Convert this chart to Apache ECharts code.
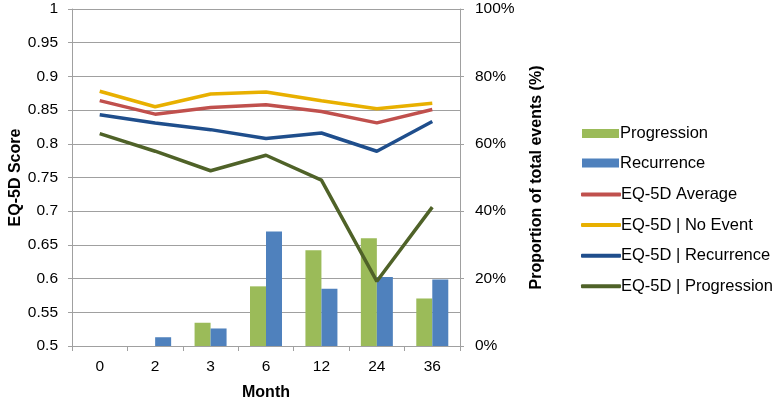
<!DOCTYPE html>
<html><head><meta charset="utf-8">
<script src="https://cdn.jsdelivr.net/npm/echarts@6/dist/echarts.min.js"></script>
<style>html,body{margin:0;padding:0;background:#fff}#c{width:777px;height:406px}</style>
</head><body><div id="c"></div>
<script>
var months = ['0','2','3','6','12','24','36'];
var progressionPct = [0, 0, 6.9, 17.7, 28.4, 32.0, 14.1];
var recurrencePct = [0, 2.6, 5.2, 34.0, 17.0, 20.5, 19.7];
var eqAverage = [0.864, 0.844, 0.854, 0.858, 0.848, 0.831, 0.851];
var eqNoEvent = [0.878, 0.855, 0.874, 0.877, 0.864, 0.852, 0.860];
var eqRecurrence = [0.843, 0.831, 0.821, 0.808, 0.816, 0.789, 0.833];
var eqProgression = [0.815, 0.789, 0.760, 0.783, 0.746, 0.596, 0.706];
var leftTicks = {min: 0.5, max: 1, interval: 0.05};
var rightTicks = {min: 0, max: 100, interval: 20};

var FONT = 'Liberation Sans, Arial, sans-serif';
var grid = '#a0a0a0';
var chart = echarts.init(document.getElementById('c'), null, {renderer: 'canvas'});
function lineSeries(name, data, color) {
  return {name: name, type: 'line', yAxisIndex: 0, data: data, symbol: 'none',
    lineStyle: {color: color, width: 3.5}, itemStyle: {color: color}, z: 5, animation: false};
}
chart.setOption({
  animation: false,
  textStyle: {fontFamily: FONT},
  grid: {left: 72, right: 317, top: 9, bottom: 59},
  legend: [{
    orient: 'vertical', left: 577, top: 120, itemWidth: 37, itemHeight: 9, itemGap: 12.5,
    icon: 'rect', textStyle: {fontSize: 16.5, color: '#000', fontFamily: FONT, padding: [0,0,0,-4]},
    data: ['Progression', 'Recurrence']
  }, {
    orient: 'vertical', left: 576, top: 181, itemWidth: 40, itemHeight: 4, itemGap: 13.6,
    icon: 'roundRect',
    textStyle: {fontSize: 16.5, color: '#000', fontFamily: FONT, padding: [0,0,0,-5]},
    data: ['EQ-5D Average', 'EQ-5D | No Event', 'EQ-5D | Recurrence', 'EQ-5D | Progression']
  }],
  xAxis: {
    type: 'category', data: months, boundaryGap: true,
    name: 'Month', nameLocation: 'middle', nameGap: 39,
    nameTextStyle: {fontSize: 16, fontWeight: 'bold', color: '#000', fontFamily: FONT},
    axisLine: {lineStyle: {color: grid, width: 1}},
    axisTick: {show: true, length: 5, lineStyle: {color: grid}},
    axisLabel: {fontSize: 15.5, color: '#000', margin: 13, fontFamily: FONT}
  },
  yAxis: [{
    type: 'value', min: leftTicks.min, max: leftTicks.max, interval: leftTicks.interval,
    name: 'EQ-5D Score', nameLocation: 'middle', nameGap: 46,
    nameTextStyle: {fontSize: 16, fontWeight: 'bold', color: '#000', fontFamily: FONT},
    axisLine: {show: true, lineStyle: {color: grid}},
    axisTick: {show: true, length: 4, lineStyle: {color: grid}},
    splitLine: {show: true, lineStyle: {color: grid, width: 1}},
    axisLabel: {fontSize: 15.5, color: '#000', margin: 14, fontFamily: FONT,
      formatter: function (v) { return String(+v.toFixed(2)); }}
  }, {
    type: 'value', min: rightTicks.min, max: rightTicks.max, interval: rightTicks.interval,
    position: 'right',
    name: 'Proportion of total events (%)', nameLocation: 'middle', nameGap: 69,
    nameTextStyle: {fontSize: 16, fontWeight: 'bold', color: '#000', fontFamily: FONT},
    axisLine: {show: true, lineStyle: {color: grid}},
    axisTick: {show: true, length: 4, lineStyle: {color: grid}},
    splitLine: {show: false},
    axisLabel: {fontSize: 15.5, color: '#000', margin: 15, fontFamily: FONT, formatter: '{value}%'}
  }],
  series: [
    {name: 'Progression', type: 'bar', yAxisIndex: 1, data: progressionPct, barWidth: 16, barGap: '0%',
      itemStyle: {color: '#9bbb59'}, z: 2},
    {name: 'Recurrence', type: 'bar', yAxisIndex: 1, data: recurrencePct, barWidth: 16, barGap: '0%',
      itemStyle: {color: '#4f81bd'}, z: 2},
    lineSeries('EQ-5D Average', eqAverage, '#c0504d'),
    lineSeries('EQ-5D | No Event', eqNoEvent, '#e8b000'),
    lineSeries('EQ-5D | Recurrence', eqRecurrence, '#1f4e8c'),
    lineSeries('EQ-5D | Progression', eqProgression, '#4f6228')
  ]
});
</script></body></html>
